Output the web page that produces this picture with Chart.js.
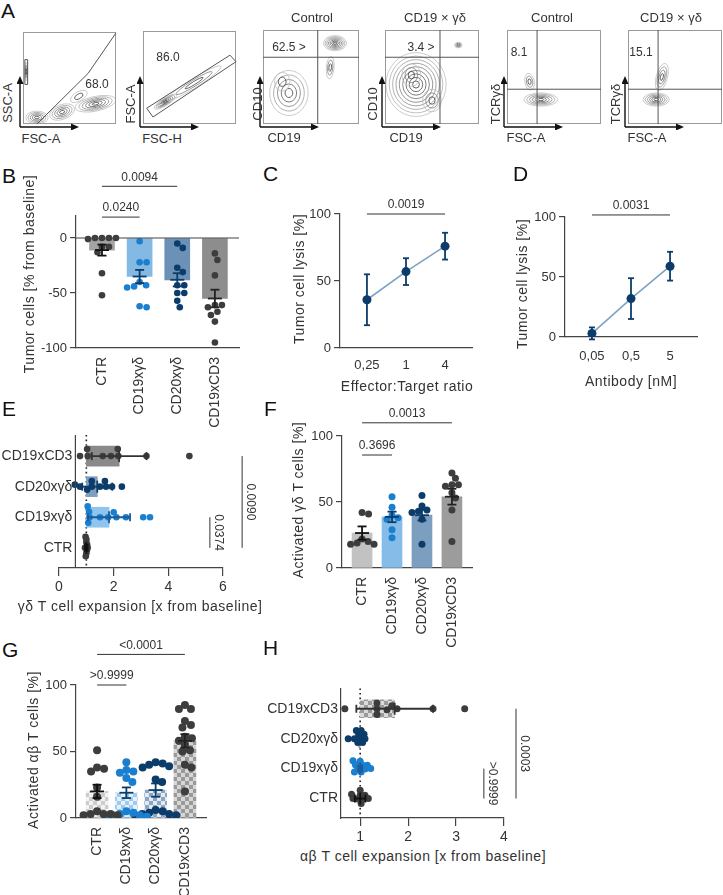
<!DOCTYPE html>
<html>
<head>
<meta charset="utf-8">
<script src="https://cdn.jsdelivr.net/npm/chart.js@4.4.1/dist/chart.umd.min.js"></script>
<style>
  body { margin: 0; width: 723px; height: 895px; position: relative; overflow: hidden; background: #fff;
         font-family: "Liberation Sans", Arial, sans-serif; color: #333; }
  canvas { position: absolute; }
  .t { position: absolute; white-space: nowrap; font-size: 13px; transform: translate(-50%, -50%); line-height: 1; }
  .n { font-size: 12px; }
  .ti { font-size: 14px; letter-spacing: 0.5px; }
  .v { transform: translate(-50%, -50%) rotate(-90deg); }
  .p { position: absolute; font-size: 21px; color: #111; transform: translateY(-50%); line-height: 1; }
</style>
</head>
<body>
<script>
// ---- data ----
const groups = ['CTR', 'CD19xγδ', 'CD20xγδ', 'CD19xCD3']

// B: tumor cells [% from baseline]
const tumorMean = [-11, -35, -38, -55]
const tumorSem = [5, 6, 6, 8]
const tumorCtr = [0, 0, 0, 0, -1, -8, -8, -13, -32, -52]
const tumorCd19 = [-3, -22, -22, -40, -43, -44, -45, -62, -63]
const tumorCd20 = [-5, -9, -27, -31, -43, -43, -50, -50, -57, -63]
const tumorCd3 = [-14, -20, -34, -61, -61, -63, -67, -70, -76, -95]
const tumorSig = [['0.0240', 0, 1], ['0.0094', 0, 2]]

// C: lysis vs effector:target ratio
const ratios = ['0,25', '1', '4']
const lysisByRatio = [36, 57, 76]
const lysisByRatioErr = [19, 10, 10]
const ratioSig = [['0.0019', 0, 2]]

// D: lysis vs antibody dose
const doses = ['0,05', '0,5', '5']
const lysisByDose = [3, 32, 59]
const lysisByDoseErr = [5, 17, 12]
const doseSig = [['0.0031', 0, 2]]

// E: gd T cell expansion
const gdExpMean = [1.0, 1.83, 1.4, 2.2]
const gdExpErr = [0.05, 0.77, 0.55, 1.0]
const gdExpCtr = [0.95, 0.97, 0.98, 1, 1, 1, 1.02, 1.03, 1.05]
const gdExpCd19 = [1.05, 1.07, 1.1, 1.12, 1.5, 1.8, 2.0, 2.1, 2.45, 3.08, 3.33]
const gdExpCd20 = [0.58, 0.77, 1.03, 1.2, 1.2, 1.5, 1.68, 1.72, 1.94, 2.3]
const gdExpCd3 = [0.77, 1.03, 1.05, 1.6, 1.9, 2.15, 2.17, 3.2, 4.77]
const gdExpSig = [['0.0374', 1, 0], ['0.0090', 3, 0]]

// F: activated gd T cells [%]
const gdActMean = [26.5, 38.7, 40, 54]
const gdActSem = [5, 4, 4, 6]
const gdActCtr = [18, 18, 19, 20, 22, 41, 42]
const gdActCd19 = [23, 29, 37, 38, 40, 46, 54]
const gdActCd20 = [18, 37, 42, 43, 44, 47, 55]
const gdActCd3 = [20, 44, 53, 57, 62, 63, 63, 68, 72]
const gdActSig = [['0.3696', 0, 1], ['0.0013', 0, 3]]

// G: activated ab T cells [%]
const abActMean = [20, 19, 21, 58]
const abActSem = [5, 4, 5, 5]
const abActCtr = [2, 2, 3, 3, 3, 5, 16, 23, 35, 37, 38, 51]
const abActCd19 = [1, 1, 2, 2, 3, 4, 5, 27, 30, 34, 35, 36, 42]
const abActCd20 = [2, 2, 3, 3, 4, 5, 6, 27, 29, 38, 39, 40, 41, 42]
const abActCd3 = [20, 38, 40, 50, 51, 55, 58, 60, 61, 68, 70, 73, 82, 82, 85]
const abActSig = [['>0.9999', 0, 1], ['<0.0001', 0, 3]]

// H: ab T cell expansion
const abExpMean = [1.0, 1.0, 0.97, 1.72]
const abExpErr = [0.11, 0.04, 0.04, 0.8]
const abExpCtr = [0.82, 0.85, 0.95, 1.0, 1.0, 1.02, 1.05, 1.1, 1.17]
const abExpCd19 = [0.85, 0.88, 0.9, 0.95, 1.0, 1.02, 1.05, 1.1, 1.15, 1.22]
const abExpCd20 = [0.75, 0.88, 0.92, 0.95, 0.97, 1.0, 1.02, 1.05, 1.08, 1.1]
const abExpCd3 = [0.68, 1.35, 1.35, 1.35, 1.56, 1.66, 1.77, 2.52, 3.18]
const abExpSig = [['>0.9999', 1, 0], ['0.0003', 3, 0]]

// A: flow plots, populations as [x, y, rx, ry, tilt, rings] on a 0-100 grid
const flowPlots = [
  {box: [23, 32, 116, 124],
   blobs: [[3.5, 57, 1.5, 10, 0, 3], [15, 7, 12, 7, 0, 5], [42, 13, 14, 8, 20, 5], [78, 22, 22, 8, 12, 6], [60, 30, 10, 5, 30, 2]],
   gates: [{pts: [[100, 99], [70, 55], [15, 0]]}, {pts: [[2, 43], [5, 43], [5, 70], [2, 70]], closed: true}]},
  {box: [143, 31, 236, 124],
   blobs: [[24, 24, 14, 4, 32, 6], [55, 44, 34, 5, 32, 3]],
   gates: [{pts: [[4, 17], [93.5, 74], [100, 67], [10.7, 7.5]], closed: true}]},
  {box: [263, 30, 359, 124],
   blobs: [[75, 86, 12, 8, 0, 7], [70, 60, 4, 12, -5, 3], [27, 33, 20, 24, 0, 5], [20, 45, 8, 10, 0, 2]],
   gates: [{pts: [[0, 71], [100, 71]]}, {pts: [[57, 0], [57, 100]]}]},
  {box: [385, 30, 479, 124],
   blobs: [[78, 84, 4, 3, 0, 3], [33, 42, 32, 34, 0, 9], [28, 52, 10, 12, 0, 3], [50, 25, 10, 12, 0, 3]],
   gates: [{pts: [[0, 71], [100, 71]]}, {pts: [[58.5, 0], [58.5, 100]]}]},
  {box: [507, 30, 601, 124],
   blobs: [[36, 26, 18, 7, 0, 6], [24, 45, 5, 9, 10, 3]],
   gates: [{pts: [[0, 37], [100, 37]]}, {pts: [[32, 0], [32, 100]]}]},
  {box: [628, 30, 722, 124],
   blobs: [[30, 26, 14, 7, 0, 6], [36, 50, 6, 15, -15, 4]],
   gates: [{pts: [[0, 37], [100, 37]]}, {pts: [[32, 0], [32, 100]]}]}
]

// ---- styling ----
const FONT = '"Liberation Sans", Arial, sans-serif'
const INK = '#333'
const AX = '#444'
const GRAY = '#3d3d3d', BLUE = '#1b7fcf', NAVY = '#0c3c6a'

// ---- helpers ----
function place(area, m) {
  const cv = document.createElement('canvas')
  const w = area[2] - area[0] + m[0] + m[2], h = area[3] - area[1] + m[1] + m[3]
  cv.width = w; cv.height = h
  cv.style.cssText = `left:${area[0] - m[0]}px;top:${area[1] - m[1]}px;width:${w}px;height:${h}px`
  document.body.appendChild(cv)
  return cv
}

function text(s, x, y, cls) {
  const d = document.createElement('div')
  d.className = cls
  d.textContent = s
  d.style.left = x + 'px'; d.style.top = y + 'px'
  document.body.appendChild(d)
}

// spread dots sideways so they don't pile up (pixel space); d = allowed centre distance
function swarm(vals, pxV, pxC, d) {
  const placed = [], off = vals.map(() => 0)
  vals.map((v, i) => i).sort((a, b) => vals[b] - vals[a]).forEach(i => {
    const y = vals[i] * pxV
    for (let k = 0; k < 400; k++) {
      const x = (k % 2 ? 1 : -1) * Math.ceil(k / 2) * 0.5
      if (placed.every(p => (p[0] - x) ** 2 + (p[1] - y) ** 2 >= d * d)) {
        placed.push([x, y]); off[i] = x / pxC; break
      }
    }
  })
  return off
}

function checker(ctx, a, b, s) {
  const c = document.createElement('canvas')
  c.width = c.height = 2 * s
  const g = c.getContext('2d')
  g.fillStyle = b; g.fillRect(0, 0, 2 * s, 2 * s)
  g.fillStyle = a; g.fillRect(0, 0, s, s); g.fillRect(s, s, s, s)
  return ctx.createPattern(c, 'repeat')
}

const deco = {
  id: 'deco',
  beforeDatasetsDraw(chart, args, o) {
    if (o.dotted === undefined) return
    const {ctx, chartArea: A, scales: {x}} = chart
    const px = x.getPixelForValue(o.dotted)
    ctx.save()
    ctx.setLineDash([1.6, 3]); ctx.lineWidth = 1.6; ctx.strokeStyle = '#222'
    ctx.beginPath(); ctx.moveTo(px, A.top); ctx.lineTo(px, A.bottom); ctx.stroke()
    ctx.restore()
  },
  afterDatasetsDraw(chart, args, o) {
    const {ctx, chartArea: A, scales: {x, y}} = chart
    const X = v => x.getPixelForValue(v), Y = v => y.getPixelForValue(v)
    const seg = (x1, y1, x2, y2, c, w) => {
      ctx.strokeStyle = c; ctx.lineWidth = w
      ctx.beginPath(); ctx.moveTo(x1, y1); ctx.lineTo(x2, y2); ctx.stroke()
    }
    ctx.save()
    if (o.zero !== undefined) seg(A.left, Y(o.zero), A.right, Y(o.zero), AX, 1.2)
    if (o.axisAt !== undefined) {
      seg(X(o.axisAt), A.top, X(o.axisAt), A.bottom, AX, 1.2)
      ctx.font = '14px ' + FONT; ctx.fillStyle = INK; ctx.textAlign = 'right'; ctx.textBaseline = 'middle'
      o.labels.forEach((s, i) => ctx.fillText(s, X(o.axisAt) - 3, Y(i)))
    }
    const e = o.err
    if (e) e.mean.forEach((m, i) => {
      const c = e.color[i], w = e.width || 1.8, lo = m - e.err[i], hi = m + e.err[i]
      if (e.horiz) {
        const yy = Y(i)
        seg(X(lo), yy, X(hi), yy, c, w)
        seg(X(lo), yy - e.cap / 2, X(lo), yy + e.cap / 2, c, w)
        seg(X(hi), yy - e.cap / 2, X(hi), yy + e.cap / 2, c, w)
        if (e.mid) seg(X(m), yy - e.mid / 2, X(m), yy + e.mid / 2, c, w)
      } else {
        const xx = X(i)
        seg(xx, Y(lo), xx, Y(hi), c, w)
        seg(xx - e.cap / 2, Y(lo), xx + e.cap / 2, Y(lo), c, w)
        seg(xx - e.cap / 2, Y(hi), xx + e.cap / 2, Y(hi), c, w)
        if (e.mid) seg(xx - e.mid / 2, Y(m), xx + e.mid / 2, Y(m), c, w)
      }
    })
    if (o.sig) {
      ctx.font = '12px ' + FONT; ctx.fillStyle = INK; ctx.textAlign = 'center'; ctx.textBaseline = 'middle'
      o.sig.forEach(s => {
        if (o.sideSig) {
          const xx = X(s.at)
          seg(xx, Y(s.a), xx, Y(s.b), '#333', 1)
          ctx.save(); ctx.translate(xx + 8, (Y(s.a) + Y(s.b)) / 2); ctx.rotate(Math.PI / 2)
          ctx.fillText(s.txt, 0, 0); ctx.restore()
        } else {
          const yy = Y(s.at)
          seg(X(s.a), yy, X(s.b), yy, '#333', 1)
          ctx.fillText(s.txt, (X(s.a) + X(s.b)) / 2, yy - 9)
        }
      })
    }
    ctx.restore()
  }
}
Chart.register(deco)

const flow = {
  id: 'flow',
  afterDraw(chart, args, o) {
    const {ctx, chartArea: A, scales: {x, y}} = chart
    const X = v => x.getPixelForValue(v), Y = v => y.getPixelForValue(v)
    ctx.save()
    ctx.save()
    ctx.beginPath(); ctx.rect(A.left, A.top, A.width, A.height); ctx.clip()
    o.blobs.forEach(([cx, cy, rx, ry, rot, n]) => {
      for (let k = n; k >= 1; k--) {
        const f = k / n, g = Math.round(60 + 130 * (k - 1) / Math.max(n - 1, 1))
        ctx.strokeStyle = `rgb(${g},${g},${g})`; ctx.lineWidth = 0.8
        ctx.beginPath()
        ctx.ellipse(X(cx), Y(cy), (X(rx) - X(0)) * f, (Y(0) - Y(ry)) * f, -rot * Math.PI / 180, 0, Math.PI * 2)
        ctx.stroke()
      }
    })
    ctx.restore()
    ctx.strokeStyle = '#9a9a9a'; ctx.lineWidth = 1
    ctx.strokeRect(A.left + 0.5, A.top + 0.5, A.width - 1, A.height - 1)
    ctx.strokeStyle = '#555'
    o.gates.forEach(g => {
      ctx.beginPath()
      g.pts.forEach((p, i) => i ? ctx.lineTo(X(p[0]), Y(p[1])) : ctx.moveTo(X(p[0]), Y(p[1])))
      if (g.closed) ctx.closePath()
      ctx.stroke()
    })
    const ax = A.left - 3, ay = A.bottom + 3
    ctx.strokeStyle = ctx.fillStyle = '#111'; ctx.lineWidth = 1.4
    ctx.beginPath(); ctx.moveTo(ax, ay); ctx.lineTo(ax, A.bottom - 40)
    ctx.moveTo(ax, ay); ctx.lineTo(A.left + 48, ay); ctx.stroke()
    ctx.beginPath(); ctx.moveTo(ax - 3.5, A.bottom - 40); ctx.lineTo(ax + 3.5, A.bottom - 40); ctx.lineTo(ax, A.bottom - 48); ctx.fill()
    ctx.beginPath(); ctx.moveTo(A.left + 48, ay - 3.5); ctx.lineTo(A.left + 48, ay + 3.5); ctx.lineTo(A.left + 56, ay); ctx.fill()
    ctx.restore()
  }
}

const noUi = {legend: {display: false}, tooltip: {enabled: false}}

// ---- panel A ----
flowPlots.forEach(p => {
  const cv = place(p.box, [6, 6, 6, 6])
  new Chart(cv, {
    type: 'scatter',
    data: {datasets: [{data: p.blobs.map(b => ({x: b[0], y: b[1]})), pointRadius: 0}]},
    options: {
      responsive: false, animation: false, devicePixelRatio: 1,
      layout: {padding: 6},
      scales: {x: {display: false, min: 0, max: 100}, y: {display: false, min: 0, max: 100}},
      plugins: {...noUi, flow: {blobs: p.blobs, gates: p.gates}}
    },
    plugins: [flow]
  })
})

// ---- vertical bar + dot panels (B, F, G) ----
function dotBar(o) {
  const [l, t, r, b] = o.area, [ml, mt, mr, mb] = o.margin
  const cv = place(o.area, o.margin)
  const pxV = (b - t) / (o.ymax - o.ymin), pxC = (r - l) / (o.xmax - o.xmin)
  const fills = typeof o.bars === 'function' ? o.bars(cv.getContext('2d')) : o.bars
  const ds = [{
    type: 'bar', data: o.mean.map((m, i) => ({x: i, y: m})),
    backgroundColor: fills, barThickness: o.barW, borderWidth: 0, order: 2
  }]
  o.dots.forEach((vals, gi) => {
    const off = swarm(vals, pxV, pxC, o.gap)
    ds.push({
      type: 'scatter', data: vals.map((v, i) => ({x: gi + off[i], y: v})),
      pointRadius: o.r, pointBackgroundColor: o.dotColors[gi], pointBorderWidth: 0, order: 1
    })
  })
  new Chart(cv, {
    type: 'scatter',
    data: {datasets: ds},
    options: {
      responsive: false, animation: false, devicePixelRatio: 1,
      layout: {padding: {left: 0, top: mt, right: mr, bottom: 0}},
      scales: {
        x: {
          type: 'linear', min: o.xmin, max: o.xmax, offset: false,
          afterFit: s => { s.height = mb },
          border: {color: AX, width: 1.2}, grid: {display: false, drawTicks: false},
          ticks: {stepSize: 1, includeBounds: false, autoSkip: false, minRotation: 90, maxRotation: 90,
                  padding: 9, font: {size: 14, family: FONT}, color: INK, callback: v => groups[v] ?? ''}
        },
        y: {
          type: 'linear', min: o.ymin, max: o.ymax,
          afterFit: s => { s.width = ml },
          border: {color: AX, width: 1.2},
          grid: {drawOnChartArea: false, tickLength: 6, color: AX, lineWidth: 1.2},
          ticks: {stepSize: 50, includeBounds: false, padding: 3, font: {size: 13, family: FONT}, color: INK}
        }
      },
      plugins: {...noUi, deco: {
        zero: o.zero,
        err: {mean: o.mean, err: o.sem, color: o.errColors, cap: 9, mid: 14},
        sig: o.sig
      }}
    }
  })
}

dotBar({
  area: [76, 216, 239, 348], margin: [55, 50, 6, 80],
  xmin: -0.69, xmax: 3.64, ymin: -100, ymax: 20, zero: 0,
  mean: tumorMean, sem: tumorSem, barW: 25, r: 3.3, gap: 7,
  bars: ['#a3a3a3', '#84b9e4', '#6b91b6', '#8d8d8d'],
  dots: [tumorCtr, tumorCd19, tumorCd20, tumorCd3], dotColors: [GRAY, BLUE, NAVY, GRAY],
  errColors: ['#111', NAVY, NAVY, '#222'],
  sig: [{txt: tumorSig[0][0], a: tumorSig[0][1], b: tumorSig[0][2], at: 19},
        {txt: tumorSig[1][0], a: tumorSig[1][1], b: tumorSig[1][2], at: 47}]
})

dotBar({
  area: [342, 436, 472, 568], margin: [52, 30, 8, 85],
  xmin: -0.67, xmax: 3.67, ymin: 0, ymax: 100,
  mean: gdActMean, sem: gdActSem, barW: 20, r: 3.5, gap: 6.3,
  bars: ['#c2c2c2', '#86bde8', '#7c9ebf', '#9c9c9c'],
  dots: [gdActCtr, gdActCd19, gdActCd20, gdActCd3], dotColors: [GRAY, BLUE, NAVY, GRAY],
  errColors: ['#111', NAVY, NAVY, '#222'],
  sig: [{txt: gdActSig[0][0], a: gdActSig[0][1], b: gdActSig[0][2], at: 85.6},
        {txt: gdActSig[1][0], a: gdActSig[1][1], b: gdActSig[1][2], at: 110}]
})

dotBar({
  area: [76, 685, 206, 818], margin: [51, 48, 8, 77],
  xmin: -0.72, xmax: 3.72, ymin: 0, ymax: 100,
  mean: abActMean, sem: abActSem, barW: 22, r: 4, gap: 7,
  bars: ctx => [checker(ctx, '#cdcdcd', '#f2f2f2', 4), checker(ctx, '#9fcaef', '#e6f1fb', 4),
                checker(ctx, '#8aa6c3', '#e4eaf1', 4), checker(ctx, '#9a9a9a', '#d6d6d6', 4)],
  dots: [abActCtr, abActCd19, abActCd20, abActCd3], dotColors: [GRAY, BLUE, NAVY, GRAY],
  errColors: ['#111', NAVY, NAVY, '#222'],
  sig: [{txt: abActSig[0][0], a: abActSig[0][1], b: abActSig[0][2], at: 100},
        {txt: abActSig[1][0], a: abActSig[1][1], b: abActSig[1][2], at: 123}]
})

// ---- line panels (C, D) ----
function lysis(o) {
  const [ml, mt, mr, mb] = o.margin
  const cv = place(o.area, o.margin)
  new Chart(cv, {
    type: 'line',
    data: {datasets: [{
      data: o.vals.map((v, i) => ({x: i, y: v})),
      borderColor: '#7ba3c6', borderWidth: 1.6,
      pointRadius: 4.5, pointBackgroundColor: NAVY, pointBorderWidth: 0
    }]},
    options: {
      responsive: false, animation: false, devicePixelRatio: 1,
      layout: {padding: {left: 0, top: mt, right: mr, bottom: 0}},
      scales: {
        x: {
          type: 'linear', min: -0.69, max: 2.69,
          afterFit: s => { s.height = mb },
          border: {color: AX, width: 1.2}, grid: {display: false, drawTicks: false},
          ticks: {stepSize: 1, includeBounds: false, padding: o.tickPad, font: {size: 13, family: FONT}, color: INK,
                  callback: v => o.labels[v] ?? ''}
        },
        y: {
          type: 'linear', min: 0, max: 100,
          afterFit: s => { s.width = ml },
          border: {color: AX, width: 1.2},
          grid: {drawOnChartArea: false, tickLength: 6, color: AX, lineWidth: 1.2},
          ticks: {stepSize: 50, includeBounds: false, padding: 3, font: {size: 13, family: FONT}, color: INK}
        }
      },
      plugins: {...noUi, deco: {
        err: {mean: o.vals, err: o.errs, color: o.vals.map(() => NAVY), cap: 6, width: 1.8},
        sig: [{txt: o.sig[0][0], a: o.sig[0][1], b: o.sig[0][2], at: o.sigAt}]
      }}
    }
  })
}

lysis({area: [340, 214, 472, 348], margin: [49, 20, 8, 40], vals: lysisByRatio, errs: lysisByRatioErr,
       labels: ratios, tickPad: 10, sig: ratioSig, sigAt: 100})
lysis({area: [565, 217, 697, 337], margin: [51, 20, 10, 40], vals: lysisByDose, errs: lysisByDoseErr,
       labels: doses, tickPad: 12, sig: doseSig, sigAt: 101.7})

// ---- horizontal panels (E, H) ----
function expansion(o) {
  const [l, t, r, b] = o.area, [ml, mt, mr, mb] = o.margin
  const cv = place(o.area, o.margin)
  const pxV = (r - l) / (o.xmax - o.xmin), pxC = (b - t) / (o.ymax - o.ymin)
  const fills = typeof o.bars === 'function' ? o.bars(cv.getContext('2d')) : o.bars
  const ds = [{
    type: 'bar', indexAxis: 'y', data: o.mean.map((m, i) => ({y: i, x: [1, m]})),
    backgroundColor: fills, barThickness: o.barW, borderWidth: 0, borderSkipped: false, order: 2
  }]
  o.dots.forEach((vals, gi) => {
    const off = swarm(vals, pxV, pxC, o.gap[gi])
    ds.push({
      type: 'scatter', data: vals.map((v, i) => ({x: v, y: gi + off[i]})),
      pointRadius: o.r, pointBackgroundColor: o.dotColors[gi], pointBorderWidth: 0, order: 1
    })
  })
  new Chart(cv, {
    type: 'scatter',
    data: {datasets: ds},
    options: {
      responsive: false, animation: false, devicePixelRatio: 1,
      layout: {padding: {left: o.ownAxis ? 0 : ml, top: mt, right: mr, bottom: 0}},
      scales: {
        x: {
          type: 'linear', min: o.xmin, max: o.xmax, offset: false,
          afterFit: s => { s.height = mb },
          border: {color: AX, width: 1.2},
          grid: {drawOnChartArea: false, tickLength: 8, color: AX, lineWidth: 1.2},
          ticks: {stepSize: o.step, includeBounds: false, padding: 3, font: {size: 14, family: FONT}, color: INK}
        },
        y: o.ownAxis ? {
          type: 'linear', min: o.ymin, max: o.ymax, offset: false,
          afterFit: s => { s.width = ml },
          border: {color: AX, width: 1.2}, grid: {display: false, drawTicks: false},
          ticks: {stepSize: 1, includeBounds: false, padding: 3, font: {size: 14, family: FONT}, color: INK,
                  callback: v => groups[v] ?? ''}
        } : {type: 'linear', min: o.ymin, max: o.ymax, offset: false, display: false}
      },
      plugins: {...noUi, deco: {
        dotted: 1,
        axisAt: o.ownAxis ? undefined : o.axisAt, labels: groups,
        err: {mean: o.mean, err: o.err, color: o.errColors, cap: 8, mid: 12, horiz: true},
        sideSig: true, sig: o.sig
      }}
    }
  })
}

expansion({
  area: [59, 435, 223, 568], margin: [59, 8, 40, 30],
  xmin: 0, xmax: 6, step: 2, ymin: -0.66, ymax: 3.69, axisAt: 0.6,
  mean: gdExpMean, err: gdExpErr, barW: 20, r: 3.3, gap: [2.6, 5.5, 5.5, 6.6],
  bars: ['#aaaaaa', '#8fc4ee', '#7d9fc0', '#8a8a8a'],
  dots: [gdExpCtr, gdExpCd19, gdExpCd20, gdExpCd3], dotColors: [GRAY, BLUE, NAVY, GRAY],
  errColors: ['#111', '#1b5c99', NAVY, '#333'],
  sig: [{txt: gdExpSig[0][0], a: gdExpSig[0][1], b: gdExpSig[0][2], at: 5.52},
        {txt: gdExpSig[1][0], a: gdExpSig[1][1], b: gdExpSig[1][2], at: 6.7}]
})

expansion({
  area: [341, 685, 504, 818], margin: [85, 8, 30, 30], ownAxis: true,
  xmin: 0.6, xmax: 4, step: 1, ymin: -0.65, ymax: 3.68,
  mean: abExpMean, err: abExpErr, barW: 18, r: 3.5, gap: [4.6, 4.6, 4.6, 6],
  bars: ctx => ['#aaaaaa', '#8fc4ee', '#7d9fc0', checker(ctx, '#9a9a9a', '#dadada', 4)],
  dots: [abExpCtr, abExpCd19, abExpCd20, abExpCd3], dotColors: [GRAY, BLUE, NAVY, GRAY],
  errColors: ['#111', '#1b5c99', NAVY, '#333'],
  sig: [{txt: abExpSig[0][0], a: abExpSig[0][1], b: abExpSig[0][2], at: 3.58},
        {txt: abExpSig[1][0], a: abExpSig[1][1], b: abExpSig[1][2], at: 4.25}]
})

// ---- axis titles ----
;[['Effector:Target ratio', 407, 386], ['Antibody [nM]', 631, 381],
  ['γδ T cell expansion [x from baseline]', 140, 606], ['αβ T cell expansion [x from baseline]', 423, 856]
].forEach(([s, x, y]) => text(s, x, y, 't ti'))
;[['Tumor cells [% from baseline]', 29, 274], ['Tumor cell lysis [%]', 299, 279], ['Tumor cell lysis [%]', 522, 284],
  ['Activated γδ  T cells [%]', 298, 500], ['Activated αβ  T cells [%]', 33, 750]
].forEach(([s, x, y]) => text(s, x, y, 't ti v'))

// ---- text for panel A and panel letters ----
;[['Control', 312, 17], ['CD19 × γδ', 435, 17], ['Control', 552, 17], ['CD19 × γδ', 671, 17],
  ['FSC-A', 41, 138], ['FSC-H', 162, 138], ['CD19', 284, 137], ['CD19', 406, 137], ['FSC-A', 526, 137], ['FSC-A', 647, 137]
].forEach(([s, x, y]) => text(s, x, y, 't'))
;[['SSC-A', 7, 103], ['FSC-A', 130, 104], ['CD10', 257, 104], ['CD10', 372, 104], ['TCRγδ', 495, 104], ['TCRγδ', 615, 104]
].forEach(([s, x, y]) => text(s, x, y, 't v'))
;[['68.0', 97, 84], ['86.0', 168, 57], ['62.5 >', 289, 47], ['3.4 >', 421, 47], ['8.1', 519, 52], ['15.1', 641, 52]
].forEach(([s, x, y]) => text(s, x, y, 't n'))
;[['A', 1, 10], ['B', 2, 175], ['C', 263, 173], ['D', 513, 173], ['E', 2, 408], ['F', 264, 408], ['G', 2, 649], ['H', 263, 647]
].forEach(([s, x, y]) => text(s, x, y, 'p'))
</script>
</body>
</html>
